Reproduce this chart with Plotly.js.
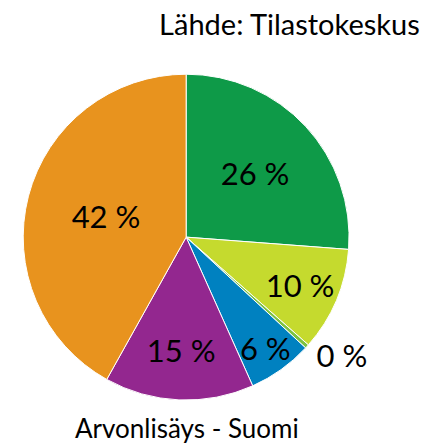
<!DOCTYPE html>
<html><head><meta charset="utf-8">
<script src="https://cdn.plot.ly/plotly-3.0.1.min.js"></script>
<style>html,body{margin:0;padding:0;background:#fff;}#c{width:424px;height:447px;}</style>
</head><body><div id="c"></div>
<script>
const categories = ["A", "B", "C", "D", "E", "F"];
const values = [26.2, 10.3, 0.4, 6.4, 14.8, 41.9];
const labelText = ["26 %", "10 %", "0 %", "6 %", "15 %", "42 %"];
const colors = ["#0E9A48", "#C5DA2E", "#7DC242", "#0081C0", "#93278F", "#E8931E"];
const positions = ["inside", "inside", "outside", "inside", "inside", "inside"];

const trace = {
  type: "pie",
  labels: categories,
  values: values,
  text: labelText,
  textinfo: "text",
  textposition: positions,
  insidetextorientation: "horizontal",
  sort: false,
  direction: "clockwise",
  rotation: 0,
  marker: {colors: colors, line: {color: "#ffffff", width: 1}},
  textfont: {family: "Lato, 'Open Sans', sans-serif", size: 31, color: "#000000"},
  domain: {x: [0.052, 0.826], y: [0.105, 0.834]},
  showlegend: false,
  hoverinfo: "none"
};

const layout = {
  width: 424, height: 447,
  margin: {l: 0, r: 0, t: 0, b: 0},
  paper_bgcolor: "#ffffff",
  uniformtext: {mode: "show", minsize: 31},
  title: {text: "Lähde: Tilastokeskus", x: 0.99, xanchor: "right", y: 0.945, yanchor: "middle",
          font: {family: "Lato, 'Open Sans', sans-serif", size: 29, color: "#000000"}},
  annotations: [{text: "Arvonlisäys - Suomi", xref: "paper", yref: "paper", x: 0.44, y: 0.003,
                 xanchor: "center", yanchor: "bottom", showarrow: false,
                 font: {family: "Lato, 'Open Sans', sans-serif", size: 26, color: "#000000"}}]
};
Plotly.newPlot("c", [trace], layout, {displayModeBar: false, staticPlot: true});
</script></body></html>
